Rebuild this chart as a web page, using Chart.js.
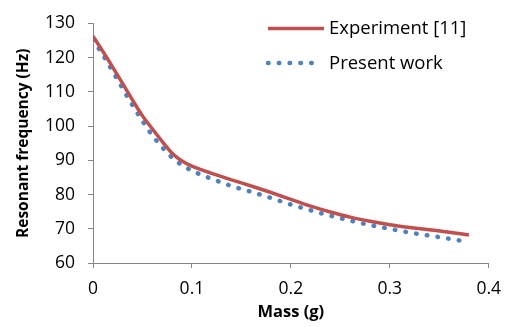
<!DOCTYPE html>
<html>
<head>
<meta charset="utf-8">
<script src="https://cdn.jsdelivr.net/npm/chart.js@4/dist/chart.umd.min.js"></script>
<style>
  html, body { margin: 0; padding: 0; background: #fff; }
  #wrap { width: 512px; height: 327px; position: relative; }
</style>
</head>
<body>
<div id="wrap"><canvas id="c" width="512" height="327"></canvas></div>
<script>
// ---- Data ----
const seriesNames = ['Experiment [11]', 'Present work'];

const experimentMass = [0, 0.01, 0.02, 0.03, 0.04, 0.05, 0.06, 0.07, 0.08, 0.09, 0.1, 0.11, 0.12, 0.14, 0.16, 0.18, 0.2, 0.22, 0.24, 0.26, 0.28, 0.3, 0.32, 0.34, 0.36, 0.38];
const experimentFreq = [126.3, 121.8, 117.2, 112.4, 107.6, 103.0, 99.2, 95.5, 92.1, 89.8, 88.3, 87.2, 86.2, 84.3, 82.5, 80.6, 78.6, 76.6, 74.9, 73.4, 72.2, 71.2, 70.4, 69.7, 69.0, 68.2];

const presentMass = [0, 0.01, 0.02, 0.03, 0.04, 0.05, 0.06, 0.07, 0.08, 0.09, 0.1, 0.11, 0.12, 0.14, 0.16, 0.18, 0.2, 0.22, 0.24, 0.26, 0.28, 0.3, 0.32, 0.34, 0.36, 0.376];
const presentFreq = [125.3, 120.8, 116.0, 111.0, 106.1, 101.5, 97.3, 93.8, 90.8, 88.6, 87.0, 85.7, 84.6, 82.5, 80.8, 79.0, 77.1, 75.4, 73.8, 72.4, 71.1, 70.0, 68.9, 68.0, 67.1, 66.3];

const xTicks = [0, 0.1, 0.2, 0.3, 0.4];
const yTicks = [60, 70, 80, 90, 100, 110, 120, 130];

const xTitle = 'Mass (g)';
const yTitle = 'Resonant frequency (Hz)';

// ---- Build chart ----
const toPoints = (xs, ys) => xs.map((x, i) => ({ x: x, y: ys[i] }));
const FONT = '"Open Sans"';
const axisGray = '#868686';

const legendPlugin = {
  id: 'lineLegend',
  afterDraw(chart) {
    const ctx = chart.ctx;
    const rows = [28.5, 63];
    chart.data.datasets.forEach((ds, i) => {
      const y = rows[i];
      ctx.save();
      ctx.strokeStyle = ds.borderColor;
      ctx.lineWidth = ds.borderWidth;
      ctx.lineCap = ds.borderCapStyle || 'butt';
      ctx.setLineDash(ds.borderDash || []);
      ctx.beginPath();
      if (ds.borderDash && ds.borderDash.length) {
        ctx.moveTo(268, y);
        ctx.lineTo(318, y);
      } else {
        ctx.moveTo(268, y);
        ctx.lineTo(324, y);
      }
      ctx.stroke();
      ctx.setLineDash([]);
      ctx.fillStyle = '#000';
      ctx.font = '18.5px ' + FONT;
      ctx.textBaseline = 'middle';
      ctx.textAlign = 'left';
      ctx.fillText(ds.label, 329, y + 0.5);
      ctx.restore();
    });
  }
};

new Chart(document.getElementById('c'), {
  type: 'line',
  data: {
    datasets: [
      {
        label: seriesNames[0],
        data: toPoints(experimentMass, experimentFreq),
        borderColor: '#C0504D',
        borderWidth: 3.5,
        pointRadius: 0,
        cubicInterpolationMode: 'monotone',
        fill: false
      },
      {
        label: seriesNames[1],
        data: toPoints(presentMass, presentFreq),
        borderColor: '#4F81BD',
        borderWidth: 4.5,
        borderDash: [0.5, 10.3],
        borderCapStyle: 'round',
        pointRadius: 0,
        cubicInterpolationMode: 'monotone',
        fill: false
      }
    ]
  },
  options: {
    responsive: false,
    animation: false,
    devicePixelRatio: 1,
    layout: { padding: { top: 19, right: 21, left: 0, bottom: 0 } },
    plugins: { legend: { display: false }, tooltip: { enabled: false } },
    scales: {
      x: {
        type: 'linear',
        min: xTicks[0],
        max: xTicks[xTicks.length - 1],
        afterBuildTicks: (s) => { s.ticks = xTicks.map(v => ({ value: v })); },
        ticks: { color: '#000', font: { family: FONT, size: 17.5 }, padding: 11 },
        grid: { display: true, drawOnChartArea: false, drawTicks: true, tickLength: 5, color: axisGray },
        border: { display: true, color: axisGray, width: 1 },
        title: { display: true, text: xTitle, color: '#000', font: { family: FONT, size: 16.5, weight: 'bold' }, padding: { top: 0, bottom: 5 } },
        afterFit: (s) => { s.height = 64; }
      },
      y: {
        type: 'linear',
        min: yTicks[0],
        max: yTicks[yTicks.length - 1],
        afterBuildTicks: (s) => { s.ticks = yTicks.map(v => ({ value: v })); },
        ticks: { color: '#000', font: { family: FONT, size: 17.5 }, padding: 13 },
        grid: { display: true, drawOnChartArea: false, drawTicks: true, tickLength: 5, color: axisGray },
        border: { display: true, color: axisGray, width: 1 },
        title: { display: true, text: yTitle, color: '#000', font: { family: FONT, size: 15.5, weight: 'bold' }, padding: { top: 14, bottom: 0 } },
        afterFit: (s) => { s.width = 93; }
      }
    }
  },
  plugins: [legendPlugin]
});
</script>
</body>
</html>
